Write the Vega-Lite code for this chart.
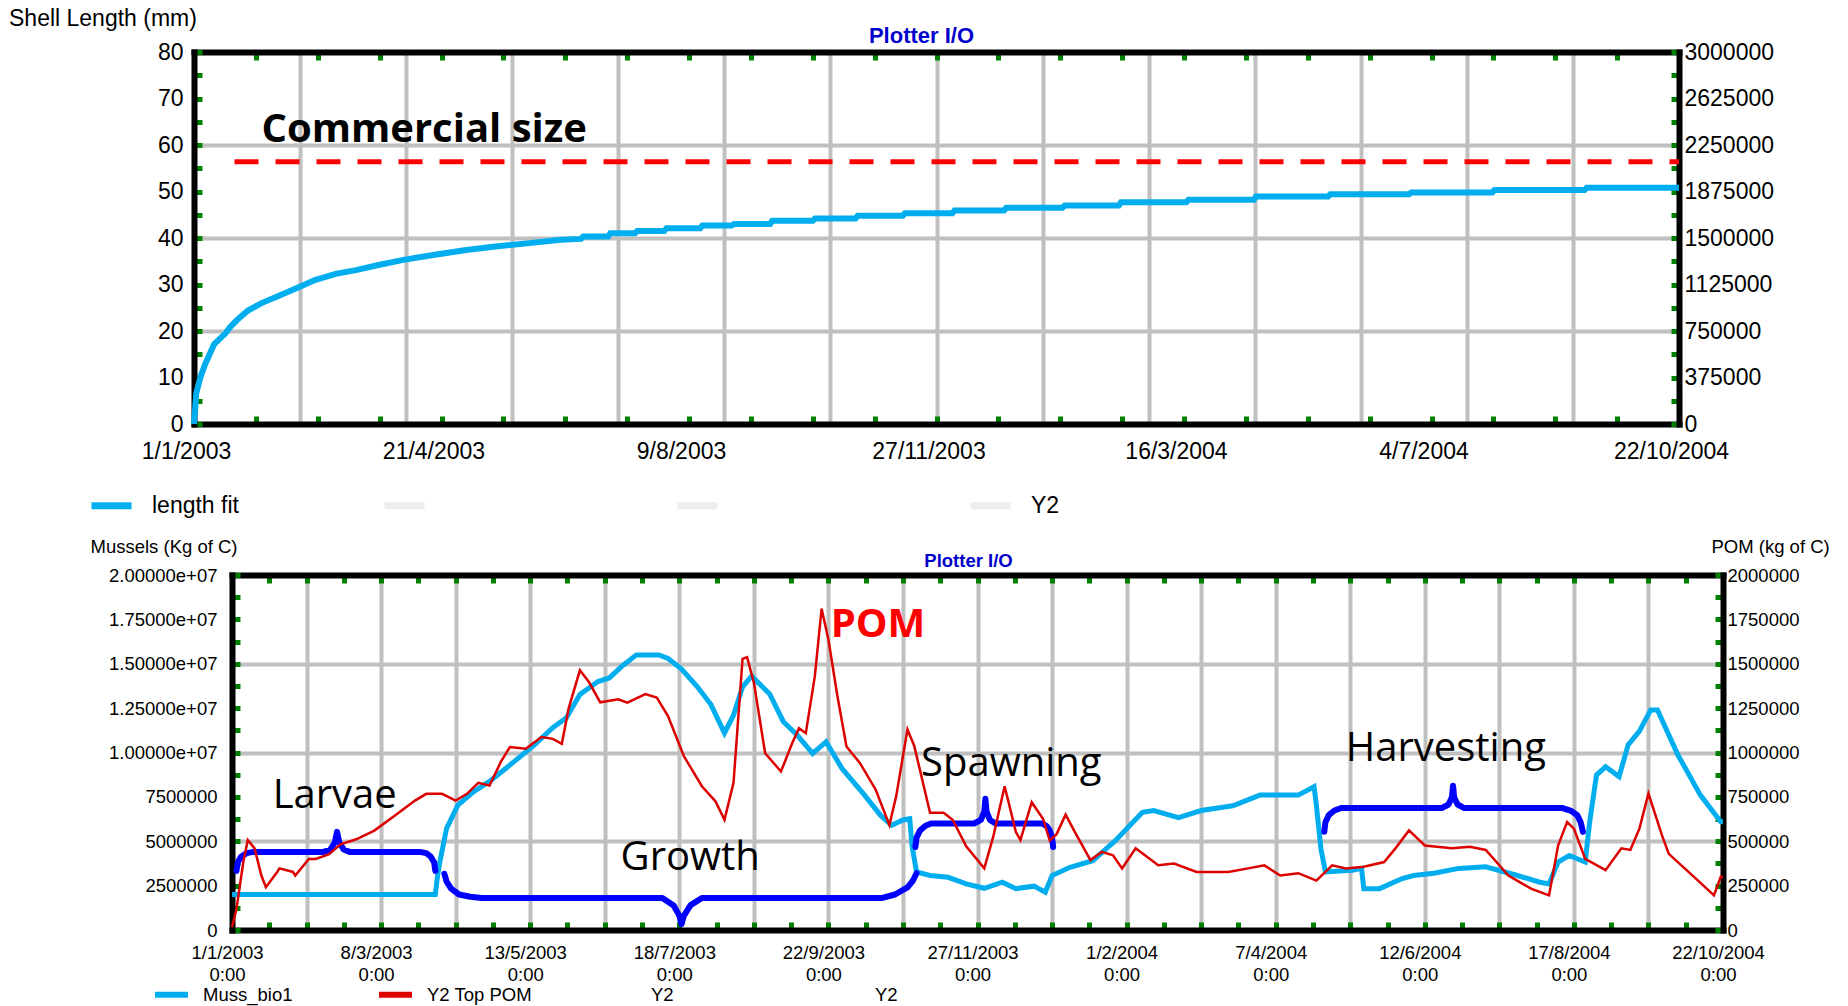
{
  "$schema": "https://vega.github.io/schema/vega-lite/v6.json",
  "background": "white",
  "padding": {"left": 9, "top": 8, "right": 0, "bottom": 0},
  "title": {"text": "Shell Length (mm)", "anchor": "start", "font": "Liberation Sans", "fontSize": 23, "fontWeight": "normal", "color": "black", "dx": -79, "offset": -7},
  "columns": 1,
  "align": "none",
  "bounds": "full",
  "spacing": 17,
  "resolve": {"scale": {"color": "independent"}, "legend": {"color": "independent"}},
  "concat": [
    {
      "width": 1447,
      "height": 372,
      "layer": [
        {
          "encoding": {
            "x": {"field": "date", "type": "temporal",
              "scale": {"type": "utc", "domain": [1041379200000, 1098403200000], "range": [-38, 1447]},
              "axis": {"orient": "bottom", "title": null,
                "values": [1041379200000,1043755200000,1045452342857,1046131200000,1048507200000,1049525485714,1050883200000,1053259200000,1053598628571,1055635200000,1057671771429,1058011200000,1060387200000,1061744914286,1062763200000,1065139200000,1065818057143,1067515200000,1069891200000,1072267200000,1073964342857,1074643200000,1077019200000,1078037485714,1079395200000,1081771200000,1082110628571,1084147200000,1086183771429,1086523200000,1088899200000,1090256914286,1091275200000,1093651200000,1094330057143,1096027200000,1098403200000],
                "labelExpr": "abs((datum.value - 1041379200000) / 9504000000 - round((datum.value - 1041379200000) / 9504000000)) < 0.001 ? utcFormat(datum.value, '%-d/%-m/%Y') : ''",
                "labelFontSize": 23, "labelPadding": 24, "labelOffset": -8, "labelBaseline": "top",
                "grid": true, "gridWidth": 4,
                "gridOpacity": {"condition": {"test": "abs((datum.value - 1041379200000) / 4073142857.142857 - round((datum.value - 1041379200000) / 4073142857.142857)) < 0.001", "value": 1}, "value": 0},
                "tickOpacity": {"condition": {"test": "abs((datum.value - 1041379200000) / 2376000000 - round((datum.value - 1041379200000) / 2376000000)) < 0.001", "value": 1}, "value": 0}
              }
            },
            "y": {"field": "length", "type": "quantitative",
              "scale": {"domain": [0, 80], "nice": false},
              "axis": {"orient": "left", "title": null, "offset": 38,
                "values": [0,5,10,15,20,25,30,35,40,45,50,55,60,65,70,75,80],
                "labelExpr": "datum.value % 10 == 0 ? format(datum.value, 'd') : ''",
                "labelFontSize": 23, "labelPadding": 19,
                "grid": true, "gridWidth": 4,
                "gridOpacity": {"condition": {"test": "datum.value % 20 == 0", "value": 1}, "value": 0}
              }
            }
          },
          "layer": [
            {
              "data": {"values": [
                {"date": "2003-01-01", "length": 0, "series": "length fit"},
                {"date": "2003-01-02", "length": 6.6, "series": "length fit"},
                {"date": "2003-01-04", "length": 10.3, "series": "length fit"},
                {"date": "2003-01-06", "length": 12.9, "series": "length fit"},
                {"date": "2003-01-10", "length": 17.2, "series": "length fit"},
                {"date": "2003-01-15", "length": 19.5, "series": "length fit"},
                {"date": "2003-01-17", "length": 20.8, "series": "length fit"},
                {"date": "2003-01-20", "length": 22.3, "series": "length fit"},
                {"date": "2003-01-25", "length": 24.4, "series": "length fit"},
                {"date": "2003-01-31", "length": 26.0, "series": "length fit"},
                {"date": "2003-02-07", "length": 27.4, "series": "length fit"},
                {"date": "2003-02-17", "length": 29.5, "series": "length fit"},
                {"date": "2003-02-24", "length": 31.0, "series": "length fit"},
                {"date": "2003-03-05", "length": 32.3, "series": "length fit"},
                {"date": "2003-03-14", "length": 33.1, "series": "length fit"},
                {"date": "2003-03-24", "length": 34.2, "series": "length fit"},
                {"date": "2003-04-04", "length": 35.3, "series": "length fit"},
                {"date": "2003-04-18", "length": 36.4, "series": "length fit"},
                {"date": "2003-05-02", "length": 37.4, "series": "length fit"},
                {"date": "2003-05-14", "length": 38.1, "series": "length fit"},
                {"date": "2003-05-30", "length": 38.9, "series": "length fit"},
                {"date": "2003-06-13", "length": 39.6, "series": "length fit"},
                {"date": "2003-06-22", "length": 39.8, "series": "length fit"},
                {"date": "2003-06-23", "length": 40.3, "series": "length fit"},
                {"date": "2003-07-04", "length": 40.3, "series": "length fit"},
                {"date": "2003-07-05", "length": 41.0, "series": "length fit"},
                {"date": "2003-07-16", "length": 41.0, "series": "length fit"},
                {"date": "2003-07-17", "length": 41.5, "series": "length fit"},
                {"date": "2003-07-29", "length": 41.5, "series": "length fit"},
                {"date": "2003-07-30", "length": 42.1, "series": "length fit"},
                {"date": "2003-08-14", "length": 42.1, "series": "length fit"},
                {"date": "2003-08-15", "length": 42.7, "series": "length fit"},
                {"date": "2003-08-28", "length": 42.7, "series": "length fit"},
                {"date": "2003-08-29", "length": 43.0, "series": "length fit"},
                {"date": "2003-09-14", "length": 43.0, "series": "length fit"},
                {"date": "2003-09-15", "length": 43.7, "series": "length fit"},
                {"date": "2003-10-03", "length": 43.7, "series": "length fit"},
                {"date": "2003-10-04", "length": 44.2, "series": "length fit"},
                {"date": "2003-10-22", "length": 44.2, "series": "length fit"},
                {"date": "2003-10-23", "length": 44.8, "series": "length fit"},
                {"date": "2003-11-12", "length": 44.8, "series": "length fit"},
                {"date": "2003-11-13", "length": 45.3, "series": "length fit"},
                {"date": "2003-12-04", "length": 45.3, "series": "length fit"},
                {"date": "2003-12-05", "length": 45.9, "series": "length fit"},
                {"date": "2003-12-27", "length": 45.9, "series": "length fit"},
                {"date": "2003-12-28", "length": 46.5, "series": "length fit"},
                {"date": "2004-01-22", "length": 46.5, "series": "length fit"},
                {"date": "2004-01-23", "length": 47.0, "series": "length fit"},
                {"date": "2004-02-16", "length": 47.0, "series": "length fit"},
                {"date": "2004-02-17", "length": 47.7, "series": "length fit"},
                {"date": "2004-03-17", "length": 47.7, "series": "length fit"},
                {"date": "2004-03-18", "length": 48.2, "series": "length fit"},
                {"date": "2004-04-16", "length": 48.2, "series": "length fit"},
                {"date": "2004-04-17", "length": 48.9, "series": "length fit"},
                {"date": "2004-05-19", "length": 48.9, "series": "length fit"},
                {"date": "2004-05-20", "length": 49.4, "series": "length fit"},
                {"date": "2004-06-24", "length": 49.4, "series": "length fit"},
                {"date": "2004-06-25", "length": 49.8, "series": "length fit"},
                {"date": "2004-07-31", "length": 49.8, "series": "length fit"},
                {"date": "2004-08-01", "length": 50.3, "series": "length fit"},
                {"date": "2004-09-10", "length": 50.3, "series": "length fit"},
                {"date": "2004-09-11", "length": 50.8, "series": "length fit"},
                {"date": "2004-10-22", "length": 50.8, "series": "length fit"}
              ]},
              "mark": {"type": "line", "strokeWidth": 6},
              "encoding": {
                "color": {"field": "series", "type": "nominal",
                  "scale": {"domain": ["length fit", "b1", "b2", "Y2"], "range": ["#00AEEF", "#EEEEEE", "#EEEEEE", "#EEEEEE"]},
                  "legend": {"orient": "none", "legendX": -144, "legendY": 430, "direction": "horizontal", "columns": 4, "gridAlign": "all", "columnPadding": 131, "title": null, "labelFontSize": 23, "labelOffset": 17, "symbolSize": 1600, "symbolStrokeWidth": 7, "symbolType": "stroke", "padding": 0, "labelLimit": 500,
                    "labelExpr": "datum.label == 'b1' || datum.label == 'b2' ? '' : datum.label"}
                }
              }
            },
            {
              "data": {"values": [{"date": "2003-01-19", "end": "2004-10-22", "length": 56.4}]},
              "mark": {"type": "rule", "color": "#FF0000", "strokeWidth": 5, "strokeDash": [24, 17]},
              "encoding": {"x2": {"field": "end"}}
            },
            {
              "data": {"values": [{"date": "2003-01-31", "length": 60.6, "label": "Commercial size"}]},
              "mark": {"type": "text", "align": "left", "baseline": "alphabetic", "font": "Open Sans", "fontSize": 40, "fontWeight": "bold", "color": "black"},
              "encoding": {"text": {"field": "label"}}
            }
          ]
        },
        {
          "data": {"values": []},
          "mark": {"type": "line"},
          "encoding": {
            "x": {"field": "date", "type": "temporal",
              "scale": {"type": "utc", "domain": [1041379200000, 1098403200000], "range": [-38, 1447]},
              "axis": {"orient": "top", "labels": false, "grid": false,
                "values": [1041379200000,1043755200000,1046131200000,1048507200000,1050883200000,1053259200000,1055635200000,1058011200000,1060387200000,1062763200000,1065139200000,1067515200000,1069891200000,1072267200000,1074643200000,1077019200000,1079395200000,1081771200000,1084147200000,1086523200000,1088899200000,1091275200000,1093651200000,1096027200000,1098403200000],
                "title": "Plotter I/O", "titleColor": "#0000CC", "titleFontSize": 22, "titleFontWeight": "bold", "titleX": 689, "titleY": -17, "titleAlign": "center", "titleBaseline": "middle"}
            },
            "y": {"field": "y2", "type": "quantitative",
              "scale": {"domain": [0, 3000000], "nice": false},
              "axis": {"orient": "right", "title": null, "grid": false,
                "values": [0,187500,375000,562500,750000,937500,1125000,1312500,1500000,1687500,1875000,2062500,2250000,2437500,2625000,2812500,3000000],
                "labelExpr": "datum.value % 375000 == 0 ? format(datum.value, 'd') : ''",
                "labelFontSize": 23, "labelPadding": 13}
            }
          }
        }
      ],
      "resolve": {"scale": {"y": "independent"}, "axis": {"x": "independent", "y": "independent"}}
    },
    {
      "width": 1491,
      "height": 355,
      "layer": [
        {
          "encoding": {
            "x": {"field": "date", "type": "temporal",
              "scale": {"type": "utc", "domain": [1041379200000, 1098403200000]},
              "axis": {"orient": "bottom", "title": null,
                "values": [1041379200000,1042804800000,1044230400000,1045656000000,1047081600000,1048507200000,1049932800000,1051358400000,1052784000000,1054209600000,1055635200000,1057060800000,1058486400000,1059912000000,1061337600000,1062763200000,1064188800000,1065614400000,1067040000000,1068465600000,1069891200000,1071316800000,1072742400000,1074168000000,1075593600000,1077019200000,1078444800000,1079870400000,1081296000000,1082721600000,1084147200000,1085572800000,1086998400000,1088424000000,1089849600000,1091275200000,1092700800000,1094126400000,1095552000000,1096977600000,1098403200000],
                "labelExpr": "abs((datum.value - 1041379200000) / 5702400000 - round((datum.value - 1041379200000) / 5702400000)) < 0.001 ? [utcFormat(datum.value, '%-d/%-m/%Y'), '0:00'] : ''",
                "labelFontSize": 18.5, "labelLineHeight": 22, "labelPadding": 21, "labelOffset": -5, "labelBaseline": "top",
                "grid": true, "gridWidth": 4,
                "gridOpacity": {"condition": {"test": "abs((datum.value - 1041379200000) / 2851200000 - round((datum.value - 1041379200000) / 2851200000)) < 0.001", "value": 1}, "value": 0}
              }
            },
            "y": {"field": "kgC", "type": "quantitative",
              "scale": {"domain": [0, 20000000], "nice": false},
              "axis": {"orient": "left",
                "values": [0,1250000,2500000,3750000,5000000,6250000,7500000,8750000,10000000,11250000,12500000,13750000,15000000,16250000,17500000,18750000,20000000],
                "labelExpr": "datum.value % 2500000 == 0 ? (datum.value >= 10000000 ? replace(format(datum.value, '.5e'), 'e+', 'e+0') : format(datum.value, 'd')) : ''",
                "labelFontSize": 18.5, "labelPadding": 23,
                "grid": true, "gridWidth": 4,
                "gridOpacity": {"condition": {"test": "datum.value % 5000000 == 0", "value": 1}, "value": 0},
                "title": "Mussels (Kg of C)", "titleAngle": 0, "titleX": -142, "titleY": -29, "titleAlign": "left", "titleBaseline": "middle", "titleFontSize": 18.5}
            }
          },
          "layer": [
            {
              "data": {"values": [
                {"date": "2003-01-01", "kgC": 2000000, "series": "Muss_bio1"},
                {"date": "2003-04-01", "kgC": 2000000, "series": "Muss_bio1"},
                {"date": "2003-04-02", "kgC": 3070000, "series": "Muss_bio1"},
                {"date": "2003-04-03", "kgC": 3830000, "series": "Muss_bio1"},
                {"date": "2003-04-06", "kgC": 5730000, "series": "Muss_bio1"},
                {"date": "2003-04-11", "kgC": 7040000, "series": "Muss_bio1"},
                {"date": "2003-04-18", "kgC": 7800000, "series": "Muss_bio1"},
                {"date": "2003-04-25", "kgC": 8370000, "series": "Muss_bio1"},
                {"date": "2003-05-06", "kgC": 9500000, "series": "Muss_bio1"},
                {"date": "2003-05-15", "kgC": 10450000, "series": "Muss_bio1"},
                {"date": "2003-05-23", "kgC": 11400000, "series": "Muss_bio1"},
                {"date": "2003-05-29", "kgC": 11950000, "series": "Muss_bio1"},
                {"date": "2003-06-04", "kgC": 13270000, "series": "Muss_bio1"},
                {"date": "2003-06-12", "kgC": 14000000, "series": "Muss_bio1"},
                {"date": "2003-06-17", "kgC": 14200000, "series": "Muss_bio1"},
                {"date": "2003-06-23", "kgC": 14900000, "series": "Muss_bio1"},
                {"date": "2003-06-29", "kgC": 15500000, "series": "Muss_bio1"},
                {"date": "2003-07-09", "kgC": 15500000, "series": "Muss_bio1"},
                {"date": "2003-07-13", "kgC": 15300000, "series": "Muss_bio1"},
                {"date": "2003-07-19", "kgC": 14700000, "series": "Muss_bio1"},
                {"date": "2003-07-26", "kgC": 13700000, "series": "Muss_bio1"},
                {"date": "2003-08-01", "kgC": 12700000, "series": "Muss_bio1"},
                {"date": "2003-08-07", "kgC": 11100000, "series": "Muss_bio1"},
                {"date": "2003-08-11", "kgC": 12100000, "series": "Muss_bio1"},
                {"date": "2003-08-15", "kgC": 13700000, "series": "Muss_bio1"},
                {"date": "2003-08-19", "kgC": 14300000, "series": "Muss_bio1"},
                {"date": "2003-08-27", "kgC": 13300000, "series": "Muss_bio1"},
                {"date": "2003-09-02", "kgC": 11750000, "series": "Muss_bio1"},
                {"date": "2003-09-08", "kgC": 11000000, "series": "Muss_bio1"},
                {"date": "2003-09-15", "kgC": 9950000, "series": "Muss_bio1"},
                {"date": "2003-09-21", "kgC": 10600000, "series": "Muss_bio1"},
                {"date": "2003-09-28", "kgC": 9100000, "series": "Muss_bio1"},
                {"date": "2003-10-08", "kgC": 7600000, "series": "Muss_bio1"},
                {"date": "2003-10-15", "kgC": 6470000, "series": "Muss_bio1"},
                {"date": "2003-10-20", "kgC": 5900000, "series": "Muss_bio1"},
                {"date": "2003-10-25", "kgC": 6200000, "series": "Muss_bio1"},
                {"date": "2003-10-28", "kgC": 6270000, "series": "Muss_bio1"},
                {"date": "2003-10-29", "kgC": 4760000, "series": "Muss_bio1"},
                {"date": "2003-10-31", "kgC": 3270000, "series": "Muss_bio1"},
                {"date": "2003-11-06", "kgC": 3070000, "series": "Muss_bio1"},
                {"date": "2003-11-14", "kgC": 2970000, "series": "Muss_bio1"},
                {"date": "2003-11-22", "kgC": 2600000, "series": "Muss_bio1"},
                {"date": "2003-11-30", "kgC": 2350000, "series": "Muss_bio1"},
                {"date": "2003-12-08", "kgC": 2690000, "series": "Muss_bio1"},
                {"date": "2003-12-14", "kgC": 2330000, "series": "Muss_bio1"},
                {"date": "2003-12-22", "kgC": 2470000, "series": "Muss_bio1"},
                {"date": "2003-12-27", "kgC": 2130000, "series": "Muss_bio1"},
                {"date": "2003-12-30", "kgC": 3070000, "series": "Muss_bio1"},
                {"date": "2004-01-07", "kgC": 3530000, "series": "Muss_bio1"},
                {"date": "2004-01-17", "kgC": 3900000, "series": "Muss_bio1"},
                {"date": "2004-01-27", "kgC": 5030000, "series": "Muss_bio1"},
                {"date": "2004-02-08", "kgC": 6630000, "series": "Muss_bio1"},
                {"date": "2004-02-13", "kgC": 6730000, "series": "Muss_bio1"},
                {"date": "2004-02-24", "kgC": 6330000, "series": "Muss_bio1"},
                {"date": "2004-03-05", "kgC": 6730000, "series": "Muss_bio1"},
                {"date": "2004-03-19", "kgC": 7000000, "series": "Muss_bio1"},
                {"date": "2004-03-31", "kgC": 7600000, "series": "Muss_bio1"},
                {"date": "2004-04-17", "kgC": 7600000, "series": "Muss_bio1"},
                {"date": "2004-04-24", "kgC": 8070000, "series": "Muss_bio1"},
                {"date": "2004-04-25", "kgC": 7040000, "series": "Muss_bio1"},
                {"date": "2004-04-27", "kgC": 4600000, "series": "Muss_bio1"},
                {"date": "2004-04-29", "kgC": 3270000, "series": "Muss_bio1"},
                {"date": "2004-05-11", "kgC": 3370000, "series": "Muss_bio1"},
                {"date": "2004-05-15", "kgC": 3470000, "series": "Muss_bio1"},
                {"date": "2004-05-16", "kgC": 2330000, "series": "Muss_bio1"},
                {"date": "2004-05-23", "kgC": 2330000, "series": "Muss_bio1"},
                {"date": "2004-06-02", "kgC": 2900000, "series": "Muss_bio1"},
                {"date": "2004-06-07", "kgC": 3070000, "series": "Muss_bio1"},
                {"date": "2004-06-16", "kgC": 3200000, "series": "Muss_bio1"},
                {"date": "2004-06-27", "kgC": 3470000, "series": "Muss_bio1"},
                {"date": "2004-07-09", "kgC": 3560000, "series": "Muss_bio1"},
                {"date": "2004-07-23", "kgC": 3070000, "series": "Muss_bio1"},
                {"date": "2004-08-02", "kgC": 2690000, "series": "Muss_bio1"},
                {"date": "2004-08-06", "kgC": 2600000, "series": "Muss_bio1"},
                {"date": "2004-08-10", "kgC": 3830000, "series": "Muss_bio1"},
                {"date": "2004-08-15", "kgC": 4200000, "series": "Muss_bio1"},
                {"date": "2004-08-22", "kgC": 3830000, "series": "Muss_bio1"},
                {"date": "2004-08-24", "kgC": 6100000, "series": "Muss_bio1"},
                {"date": "2004-08-27", "kgC": 8730000, "series": "Muss_bio1"},
                {"date": "2004-08-31", "kgC": 9200000, "series": "Muss_bio1"},
                {"date": "2004-09-06", "kgC": 8640000, "series": "Muss_bio1"},
                {"date": "2004-09-10", "kgC": 10430000, "series": "Muss_bio1"},
                {"date": "2004-09-15", "kgC": 11200000, "series": "Muss_bio1"},
                {"date": "2004-09-20", "kgC": 12400000, "series": "Muss_bio1"},
                {"date": "2004-09-23", "kgC": 12400000, "series": "Muss_bio1"},
                {"date": "2004-10-02", "kgC": 9870000, "series": "Muss_bio1"},
                {"date": "2004-10-12", "kgC": 7600000, "series": "Muss_bio1"},
                {"date": "2004-10-21", "kgC": 6100000, "series": "Muss_bio1"},
                {"date": "2004-10-22", "kgC": 6100000, "series": "Muss_bio1"}
              ]},
              "mark": {"type": "line", "strokeWidth": 5},
              "encoding": {
                "color": {"field": "series", "type": "nominal",
                  "scale": {"domain": ["Muss_bio1", "Y2 Top POM", "Y2a", "Y2b"], "range": ["#00AEEF", "#DD0000", "#FFFFFF", "#FFFFFF"]},
                  "legend": {"orient": "none", "legendX": -80, "legendY": 400, "direction": "horizontal", "columns": 4, "gridAlign": "all", "columnPadding": 59, "title": null, "labelFontSize": 18.5, "labelOffset": 12, "symbolSize": 1089, "symbolStrokeWidth": 6, "symbolType": "stroke", "padding": 0, "labelLimit": 500,
                    "labelExpr": "datum.label == 'Y2a' || datum.label == 'Y2b' ? 'Y2' : datum.label"}
                }
              }
            },
            {
              "data": {"values": [
                {"brace": "Larvae", "i": 1, "date": "2003-01-03T00:00:00Z", "kgC": 3330000},
                {"brace": "Larvae", "i": 2, "date": "2003-01-03T12:00:00Z", "kgC": 3800000},
                {"brace": "Larvae", "i": 3, "date": "2003-01-05T00:00:00Z", "kgC": 4130000},
                {"brace": "Larvae", "i": 4, "date": "2003-01-07T12:00:00Z", "kgC": 4330000},
                {"brace": "Larvae", "i": 5, "date": "2003-01-10T12:00:00Z", "kgC": 4400000},
                {"brace": "Larvae", "i": 6, "date": "2003-02-10T12:00:00Z", "kgC": 4400000},
                {"brace": "Larvae", "i": 7, "date": "2003-02-13T12:00:00Z", "kgC": 4530000},
                {"brace": "Larvae", "i": 8, "date": "2003-02-15T12:00:00Z", "kgC": 4930000},
                {"brace": "Larvae", "i": 9, "date": "2003-02-16T12:00:00Z", "kgC": 5530000},
                {"brace": "Larvae", "i": 10, "date": "2003-02-17T12:00:00Z", "kgC": 4930000},
                {"brace": "Larvae", "i": 11, "date": "2003-02-19T12:00:00Z", "kgC": 4530000},
                {"brace": "Larvae", "i": 12, "date": "2003-02-22T00:00:00Z", "kgC": 4400000},
                {"brace": "Larvae", "i": 13, "date": "2003-03-25T00:00:00Z", "kgC": 4400000},
                {"brace": "Larvae", "i": 14, "date": "2003-03-28T00:00:00Z", "kgC": 4330000},
                {"brace": "Larvae", "i": 15, "date": "2003-03-30T00:00:00Z", "kgC": 4130000},
                {"brace": "Larvae", "i": 16, "date": "2003-03-31T12:00:00Z", "kgC": 3800000},
                {"brace": "Larvae", "i": 17, "date": "2003-04-01T00:00:00Z", "kgC": 3330000},
                {"brace": "Growth", "i": 1, "date": "2003-04-05T00:00:00Z", "kgC": 3170000},
                {"brace": "Growth", "i": 2, "date": "2003-04-06T00:00:00Z", "kgC": 2730000},
                {"brace": "Growth", "i": 3, "date": "2003-04-08T00:00:00Z", "kgC": 2330000},
                {"brace": "Growth", "i": 4, "date": "2003-04-11T12:00:00Z", "kgC": 2000000},
                {"brace": "Growth", "i": 5, "date": "2003-04-16T12:00:00Z", "kgC": 1870000},
                {"brace": "Growth", "i": 6, "date": "2003-04-21T12:00:00Z", "kgC": 1800000},
                {"brace": "Growth", "i": 7, "date": "2003-07-10T12:00:00Z", "kgC": 1800000},
                {"brace": "Growth", "i": 8, "date": "2003-07-15T12:00:00Z", "kgC": 1380000},
                {"brace": "Growth", "i": 9, "date": "2003-07-18T00:00:00Z", "kgC": 810000},
                {"brace": "Growth", "i": 10, "date": "2003-07-19T00:00:00Z", "kgC": 330000},
                {"brace": "Growth", "i": 11, "date": "2003-07-20T00:00:00Z", "kgC": 800000},
                {"brace": "Growth", "i": 12, "date": "2003-07-23T00:00:00Z", "kgC": 1400000},
                {"brace": "Growth", "i": 13, "date": "2003-07-28T00:00:00Z", "kgC": 1800000},
                {"brace": "Growth", "i": 14, "date": "2003-10-15T12:00:00Z", "kgC": 1800000},
                {"brace": "Growth", "i": 15, "date": "2003-10-21T12:00:00Z", "kgC": 2000000},
                {"brace": "Growth", "i": 16, "date": "2003-10-27T00:00:00Z", "kgC": 2400000},
                {"brace": "Growth", "i": 17, "date": "2003-10-29T12:00:00Z", "kgC": 2800000},
                {"brace": "Growth", "i": 18, "date": "2003-10-31T00:00:00Z", "kgC": 3200000},
                {"brace": "Spawning", "i": 1, "date": "2003-10-30T12:00:00Z", "kgC": 4670000},
                {"brace": "Spawning", "i": 2, "date": "2003-10-31T00:00:00Z", "kgC": 5200000},
                {"brace": "Spawning", "i": 3, "date": "2003-11-01T12:00:00Z", "kgC": 5600000},
                {"brace": "Spawning", "i": 4, "date": "2003-11-04T00:00:00Z", "kgC": 5870000},
                {"brace": "Spawning", "i": 5, "date": "2003-11-06T12:00:00Z", "kgC": 6000000},
                {"brace": "Spawning", "i": 6, "date": "2003-11-25T12:00:00Z", "kgC": 6000000},
                {"brace": "Spawning", "i": 7, "date": "2003-11-28T12:00:00Z", "kgC": 6200000},
                {"brace": "Spawning", "i": 8, "date": "2003-11-30T00:00:00Z", "kgC": 6670000},
                {"brace": "Spawning", "i": 9, "date": "2003-11-30T12:00:00Z", "kgC": 7400000},
                {"brace": "Spawning", "i": 10, "date": "2003-12-01T00:00:00Z", "kgC": 6670000},
                {"brace": "Spawning", "i": 11, "date": "2003-12-02T12:00:00Z", "kgC": 6200000},
                {"brace": "Spawning", "i": 12, "date": "2003-12-05T00:00:00Z", "kgC": 6000000},
                {"brace": "Spawning", "i": 13, "date": "2003-12-25T12:00:00Z", "kgC": 6000000},
                {"brace": "Spawning", "i": 14, "date": "2003-12-27T12:00:00Z", "kgC": 5870000},
                {"brace": "Spawning", "i": 15, "date": "2003-12-29T00:00:00Z", "kgC": 5600000},
                {"brace": "Spawning", "i": 16, "date": "2003-12-30T00:00:00Z", "kgC": 5200000},
                {"brace": "Spawning", "i": 17, "date": "2003-12-30T12:00:00Z", "kgC": 4670000},
                {"brace": "Harvesting", "i": 1, "date": "2004-04-28T12:00:00Z", "kgC": 5530000},
                {"brace": "Harvesting", "i": 2, "date": "2004-04-29T00:00:00Z", "kgC": 6070000},
                {"brace": "Harvesting", "i": 3, "date": "2004-04-30T12:00:00Z", "kgC": 6470000},
                {"brace": "Harvesting", "i": 4, "date": "2004-05-03T00:00:00Z", "kgC": 6730000},
                {"brace": "Harvesting", "i": 5, "date": "2004-05-06T00:00:00Z", "kgC": 6870000},
                {"brace": "Harvesting", "i": 6, "date": "2004-06-19T12:00:00Z", "kgC": 6870000},
                {"brace": "Harvesting", "i": 7, "date": "2004-06-22T12:00:00Z", "kgC": 7070000},
                {"brace": "Harvesting", "i": 8, "date": "2004-06-24T00:00:00Z", "kgC": 7470000},
                {"brace": "Harvesting", "i": 9, "date": "2004-06-24T12:00:00Z", "kgC": 8130000},
                {"brace": "Harvesting", "i": 10, "date": "2004-06-25T00:00:00Z", "kgC": 7470000},
                {"brace": "Harvesting", "i": 11, "date": "2004-06-26T12:00:00Z", "kgC": 7070000},
                {"brace": "Harvesting", "i": 12, "date": "2004-06-29T12:00:00Z", "kgC": 6870000},
                {"brace": "Harvesting", "i": 13, "date": "2004-08-12T00:00:00Z", "kgC": 6870000},
                {"brace": "Harvesting", "i": 14, "date": "2004-08-15T12:00:00Z", "kgC": 6730000},
                {"brace": "Harvesting", "i": 15, "date": "2004-08-18T12:00:00Z", "kgC": 6470000},
                {"brace": "Harvesting", "i": 16, "date": "2004-08-20T00:00:00Z", "kgC": 6070000},
                {"brace": "Harvesting", "i": 17, "date": "2004-08-21T00:00:00Z", "kgC": 5530000}
              ]},
              "mark": {"type": "line", "color": "#0000FF", "strokeWidth": 6, "strokeCap": "round", "strokeJoin": "round"},
              "encoding": {"detail": {"field": "brace", "type": "nominal"}, "order": {"field": "i", "type": "quantitative"}}
            },
            {
              "data": {"values": [
                {"label": "Larvae", "date": "2003-01-19", "kgC": 6870000},
                {"label": "Growth", "date": "2003-06-22", "kgC": 3380000},
                {"label": "Spawning", "date": "2003-11-02", "kgC": 8680000},
                {"label": "Harvesting", "date": "2004-05-08", "kgC": 9520000}
              ]},
              "mark": {"type": "text", "align": "left", "baseline": "alphabetic", "font": "Open Sans", "fontSize": 40, "color": "black"},
              "encoding": {"text": {"field": "label"}}
            },
            {
              "data": {"values": [{"label": "POM", "date": "2003-09-23", "kgC": 16500000}]},
              "mark": {"type": "text", "align": "left", "baseline": "alphabetic", "font": "Open Sans", "fontSize": 40, "fontWeight": "bold", "color": "#FF0000"},
              "encoding": {"text": {"field": "label"}}
            }
          ]
        },
        {
          "data": {"values": [
            {"date": "2003-01-01", "pom": 16000, "series": "Y2 Top POM"},
            {"date": "2003-01-03", "pom": 120000, "series": "Y2 Top POM"},
            {"date": "2003-01-06", "pom": 383000, "series": "Y2 Top POM"},
            {"date": "2003-01-08", "pom": 507000, "series": "Y2 Top POM"},
            {"date": "2003-01-11", "pom": 460000, "series": "Y2 Top POM"},
            {"date": "2003-01-14", "pom": 307000, "series": "Y2 Top POM"},
            {"date": "2003-01-16", "pom": 241000, "series": "Y2 Top POM"},
            {"date": "2003-01-21", "pom": 327000, "series": "Y2 Top POM"},
            {"date": "2003-01-22", "pom": 347000, "series": "Y2 Top POM"},
            {"date": "2003-01-28", "pom": 327000, "series": "Y2 Top POM"},
            {"date": "2003-01-29", "pom": 307000, "series": "Y2 Top POM"},
            {"date": "2003-02-04", "pom": 400000, "series": "Y2 Top POM"},
            {"date": "2003-02-07", "pom": 400000, "series": "Y2 Top POM"},
            {"date": "2003-02-13", "pom": 427000, "series": "Y2 Top POM"},
            {"date": "2003-02-18", "pom": 483000, "series": "Y2 Top POM"},
            {"date": "2003-02-25", "pom": 511000, "series": "Y2 Top POM"},
            {"date": "2003-03-05", "pom": 560000, "series": "Y2 Top POM"},
            {"date": "2003-03-14", "pom": 644000, "series": "Y2 Top POM"},
            {"date": "2003-03-23", "pom": 729000, "series": "Y2 Top POM"},
            {"date": "2003-03-28", "pom": 767000, "series": "Y2 Top POM"},
            {"date": "2003-04-04", "pom": 767000, "series": "Y2 Top POM"},
            {"date": "2003-04-10", "pom": 729000, "series": "Y2 Top POM"},
            {"date": "2003-04-15", "pom": 767000, "series": "Y2 Top POM"},
            {"date": "2003-04-20", "pom": 829000, "series": "Y2 Top POM"},
            {"date": "2003-04-25", "pom": 814000, "series": "Y2 Top POM"},
            {"date": "2003-04-30", "pom": 947000, "series": "Y2 Top POM"},
            {"date": "2003-05-04", "pom": 1031000, "series": "Y2 Top POM"},
            {"date": "2003-05-11", "pom": 1021000, "series": "Y2 Top POM"},
            {"date": "2003-05-18", "pom": 1087000, "series": "Y2 Top POM"},
            {"date": "2003-05-23", "pom": 1077000, "series": "Y2 Top POM"},
            {"date": "2003-05-27", "pom": 1049000, "series": "Y2 Top POM"},
            {"date": "2003-05-30", "pom": 1247000, "series": "Y2 Top POM"},
            {"date": "2003-06-04", "pom": 1463000, "series": "Y2 Top POM"},
            {"date": "2003-06-08", "pom": 1397000, "series": "Y2 Top POM"},
            {"date": "2003-06-13", "pom": 1283000, "series": "Y2 Top POM"},
            {"date": "2003-06-21", "pom": 1300000, "series": "Y2 Top POM"},
            {"date": "2003-06-25", "pom": 1281000, "series": "Y2 Top POM"},
            {"date": "2003-07-03", "pom": 1329000, "series": "Y2 Top POM"},
            {"date": "2003-07-08", "pom": 1310000, "series": "Y2 Top POM"},
            {"date": "2003-07-13", "pom": 1205000, "series": "Y2 Top POM"},
            {"date": "2003-07-20", "pom": 980000, "series": "Y2 Top POM"},
            {"date": "2003-07-28", "pom": 810000, "series": "Y2 Top POM"},
            {"date": "2003-08-03", "pom": 725000, "series": "Y2 Top POM"},
            {"date": "2003-08-07", "pom": 621000, "series": "Y2 Top POM"},
            {"date": "2003-08-11", "pom": 829000, "series": "Y2 Top POM"},
            {"date": "2003-08-15", "pom": 1527000, "series": "Y2 Top POM"},
            {"date": "2003-08-17", "pom": 1537000, "series": "Y2 Top POM"},
            {"date": "2003-08-20", "pom": 1395000, "series": "Y2 Top POM"},
            {"date": "2003-08-25", "pom": 996000, "series": "Y2 Top POM"},
            {"date": "2003-09-01", "pom": 893000, "series": "Y2 Top POM"},
            {"date": "2003-09-06", "pom": 1053000, "series": "Y2 Top POM"},
            {"date": "2003-09-09", "pom": 1137000, "series": "Y2 Top POM"},
            {"date": "2003-09-12", "pom": 1109000, "series": "Y2 Top POM"},
            {"date": "2003-09-16", "pom": 1430000, "series": "Y2 Top POM"},
            {"date": "2003-09-19", "pom": 1810000, "series": "Y2 Top POM"},
            {"date": "2003-09-22", "pom": 1637000, "series": "Y2 Top POM"},
            {"date": "2003-09-26", "pom": 1317000, "series": "Y2 Top POM"},
            {"date": "2003-09-30", "pom": 1034000, "series": "Y2 Top POM"},
            {"date": "2003-10-06", "pom": 940000, "series": "Y2 Top POM"},
            {"date": "2003-10-13", "pom": 789000, "series": "Y2 Top POM"},
            {"date": "2003-10-19", "pom": 591000, "series": "Y2 Top POM"},
            {"date": "2003-10-22", "pom": 753000, "series": "Y2 Top POM"},
            {"date": "2003-10-27", "pom": 1130000, "series": "Y2 Top POM"},
            {"date": "2003-10-30", "pom": 1037000, "series": "Y2 Top POM"},
            {"date": "2003-11-06", "pom": 660000, "series": "Y2 Top POM"},
            {"date": "2003-11-12", "pom": 660000, "series": "Y2 Top POM"},
            {"date": "2003-11-16", "pom": 621000, "series": "Y2 Top POM"},
            {"date": "2003-11-22", "pom": 471000, "series": "Y2 Top POM"},
            {"date": "2003-11-30", "pom": 347000, "series": "Y2 Top POM"},
            {"date": "2003-12-04", "pom": 527000, "series": "Y2 Top POM"},
            {"date": "2003-12-09", "pom": 810000, "series": "Y2 Top POM"},
            {"date": "2003-12-14", "pom": 552000, "series": "Y2 Top POM"},
            {"date": "2003-12-16", "pom": 507000, "series": "Y2 Top POM"},
            {"date": "2003-12-21", "pom": 720000, "series": "Y2 Top POM"},
            {"date": "2003-12-26", "pom": 627000, "series": "Y2 Top POM"},
            {"date": "2003-12-29", "pom": 504000, "series": "Y2 Top POM"},
            {"date": "2004-01-01", "pom": 540000, "series": "Y2 Top POM"},
            {"date": "2004-01-05", "pom": 650000, "series": "Y2 Top POM"},
            {"date": "2004-01-09", "pom": 554000, "series": "Y2 Top POM"},
            {"date": "2004-01-16", "pom": 394000, "series": "Y2 Top POM"},
            {"date": "2004-01-21", "pom": 440000, "series": "Y2 Top POM"},
            {"date": "2004-01-26", "pom": 421000, "series": "Y2 Top POM"},
            {"date": "2004-01-30", "pom": 347000, "series": "Y2 Top POM"},
            {"date": "2004-02-05", "pom": 460000, "series": "Y2 Top POM"},
            {"date": "2004-02-15", "pom": 365000, "series": "Y2 Top POM"},
            {"date": "2004-02-22", "pom": 374000, "series": "Y2 Top POM"},
            {"date": "2004-03-03", "pom": 327000, "series": "Y2 Top POM"},
            {"date": "2004-03-17", "pom": 327000, "series": "Y2 Top POM"},
            {"date": "2004-03-27", "pom": 350000, "series": "Y2 Top POM"},
            {"date": "2004-04-02", "pom": 364000, "series": "Y2 Top POM"},
            {"date": "2004-04-09", "pom": 307000, "series": "Y2 Top POM"},
            {"date": "2004-04-17", "pom": 320000, "series": "Y2 Top POM"},
            {"date": "2004-04-25", "pom": 278000, "series": "Y2 Top POM"},
            {"date": "2004-05-02", "pom": 364000, "series": "Y2 Top POM"},
            {"date": "2004-05-08", "pom": 347000, "series": "Y2 Top POM"},
            {"date": "2004-05-16", "pom": 356000, "series": "Y2 Top POM"},
            {"date": "2004-05-25", "pom": 383000, "series": "Y2 Top POM"},
            {"date": "2004-05-30", "pom": 460000, "series": "Y2 Top POM"},
            {"date": "2004-06-05", "pom": 561000, "series": "Y2 Top POM"},
            {"date": "2004-06-12", "pom": 476000, "series": "Y2 Top POM"},
            {"date": "2004-06-24", "pom": 460000, "series": "Y2 Top POM"},
            {"date": "2004-07-02", "pom": 469000, "series": "Y2 Top POM"},
            {"date": "2004-07-09", "pom": 451000, "series": "Y2 Top POM"},
            {"date": "2004-07-19", "pom": 307000, "series": "Y2 Top POM"},
            {"date": "2004-07-29", "pom": 233000, "series": "Y2 Top POM"},
            {"date": "2004-08-06", "pom": 195000, "series": "Y2 Top POM"},
            {"date": "2004-08-10", "pom": 476000, "series": "Y2 Top POM"},
            {"date": "2004-08-14", "pom": 609000, "series": "Y2 Top POM"},
            {"date": "2004-08-17", "pom": 571000, "series": "Y2 Top POM"},
            {"date": "2004-08-22", "pom": 401000, "series": "Y2 Top POM"},
            {"date": "2004-08-31", "pom": 337000, "series": "Y2 Top POM"},
            {"date": "2004-09-07", "pom": 460000, "series": "Y2 Top POM"},
            {"date": "2004-09-11", "pom": 451000, "series": "Y2 Top POM"},
            {"date": "2004-09-15", "pom": 571000, "series": "Y2 Top POM"},
            {"date": "2004-09-19", "pom": 769000, "series": "Y2 Top POM"},
            {"date": "2004-09-25", "pom": 533000, "series": "Y2 Top POM"},
            {"date": "2004-09-28", "pom": 429000, "series": "Y2 Top POM"},
            {"date": "2004-10-10", "pom": 289000, "series": "Y2 Top POM"},
            {"date": "2004-10-18", "pom": 195000, "series": "Y2 Top POM"},
            {"date": "2004-10-21", "pom": 300000, "series": "Y2 Top POM"},
            {"date": "2004-10-22", "pom": 300000, "series": "Y2 Top POM"}
          ]},
          "mark": {"type": "line", "strokeWidth": 2.5},
          "encoding": {
            "x": {"field": "date", "type": "temporal",
              "scale": {"type": "utc", "domain": [1041379200000, 1098403200000]},
              "axis": {"orient": "top", "labels": false, "grid": false,
                "values": [1041379200000,1042804800000,1044230400000,1045656000000,1047081600000,1048507200000,1049932800000,1051358400000,1052784000000,1054209600000,1055635200000,1057060800000,1058486400000,1059912000000,1061337600000,1062763200000,1064188800000,1065614400000,1067040000000,1068465600000,1069891200000,1071316800000,1072742400000,1074168000000,1075593600000,1077019200000,1078444800000,1079870400000,1081296000000,1082721600000,1084147200000,1085572800000,1086998400000,1088424000000,1089849600000,1091275200000,1092700800000,1094126400000,1095552000000,1096977600000,1098403200000],
                "title": "Plotter I/O", "titleColor": "#0000CC", "titleFontSize": 18.5, "titleFontWeight": "bold", "titleX": 736, "titleY": -15, "titleAlign": "center", "titleBaseline": "middle"}
            },
            "y": {"field": "pom", "type": "quantitative",
              "scale": {"domain": [0, 2000000], "nice": false},
              "axis": {"orient": "right", "grid": false,
                "values": [0,125000,250000,375000,500000,625000,750000,875000,1000000,1125000,1250000,1375000,1500000,1625000,1750000,1875000,2000000],
                "labelExpr": "datum.value % 250000 == 0 ? format(datum.value, 'd') : ''",
                "labelFontSize": 18.5, "labelPadding": 12,
                "title": "POM (kg of C)", "titleAngle": 0, "titleX": -12, "titleY": -29, "titleAlign": "left", "titleBaseline": "middle", "titleFontSize": 18.5}
            },
            "color": {"field": "series", "type": "nominal",
              "scale": {"domain": ["Muss_bio1", "Y2 Top POM", "Y2a", "Y2b"], "range": ["#00AEEF", "#DD0000", "#FFFFFF", "#FFFFFF"]}}
          }
        }
      ],
      "resolve": {"scale": {"y": "independent"}, "axis": {"x": "independent", "y": "independent"}}
    }
  ],
  "config": {
    "view": {"stroke": null},
    "font": "Liberation Sans",
    "axis": {
      "labelFont": "Liberation Sans", "labelColor": "black", "titleFont": "Liberation Sans", "titleColor": "black", "titleFontWeight": "normal",
      "labelOverlap": false, "labelFlush": false, "labelBound": false,
      "domainColor": "black", "domainWidth": 6, "domainCap": "square",
      "tickColor": "#008000", "tickWidth": 5, "tickSize": -8,
      "gridColor": "#C0C0C0"
    },
    "legend": {"labelFont": "Liberation Sans", "labelColor": "black"}
  }
}
